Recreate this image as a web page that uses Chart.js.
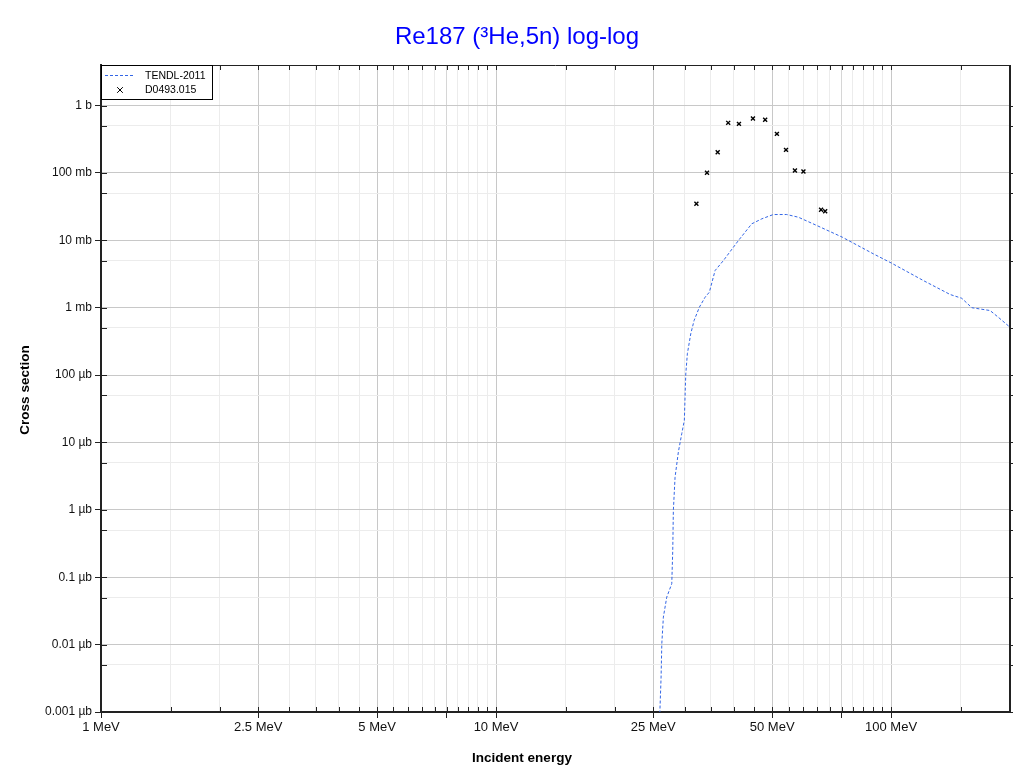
<!DOCTYPE html>
<html>
<head>
<meta charset="utf-8">
<script src="https://cdn.jsdelivr.net/npm/chart.js@4.4.1/dist/chart.umd.min.js"></script>
<style>
  html, body { margin: 0; padding: 0; background: #fff; }
  #wrap { position: relative; width: 1022px; height: 774px; }
  #borda { position: absolute; left: 6px; top: 0; width: 1px; height: 774px; background: #ececec; }
  canvas { position: absolute; left: 0; top: 0; }
</style>
</head>
<body>
<div id="wrap">
  <div id="borda"></div>
  <canvas id="grafico" width="1022" height="774"></canvas>
</div>
<script>
/*dados TENDL-2011 (MeV, barn)*/
const tendlEnergia = [25.95, 26.17, 26.28, 26.52, 27.05, 27.85, 28.01, 28.11, 28.39, 28.94,
  29.52, 29.97, 30.09, 30.22, 30.5, 31.11, 31.72, 32.72, 33.82, 34.67,
  35.85, 37.62, 41.07, 44.39, 47.07, 50.35, 54.43, 58.26, 64.86, 75.28,
  90.2, 100.4, 120.7, 141.1, 151.0, 160.1, 178.1, 186.9, 200];
const tendlSecao = [8e-10, 3.3e-9, 1.03e-8, 2.56e-8, 5.07e-8, 8.0e-8, 2.5e-7, 9.8e-7, 3.05e-6, 7.2e-6,
  1.35e-5, 2.12e-5, 4.7e-5, 1.04e-4, 2.07e-4, 4.1e-4, 6.46e-4, 1.02e-3, 1.43e-3, 1.70e-3,
  3.56e-3, 5.0e-3, 9.93e-3, 0.01758, 0.02085, 0.02415, 0.02415, 0.02203, 0.0166, 0.01112,
  6.3e-3, 4.57e-3, 2.53e-3, 1.57e-3, 1.38e-3, 1.0e-3, 9.08e-4, 7.2e-4, 5.13e-4];

/*dados experimentais D0493.015*/
const expEnergia = [32.15, 34.2, 36.4, 38.7, 41.2, 44.7, 48.0, 51.4, 54.2, 57.1, 60.0, 66.5, 68.1];
const expSecao = [0.0348, 0.101, 0.203, 0.554, 0.535, 0.641, 0.614, 0.380, 0.220, 0.1086, 0.105, 0.0284, 0.0270];

/*ticks*/
const ticksX = [1, 1.5, 2, 2.5, 3, 3.5, 4, 4.5, 5, 5.5, 6, 6.5, 7, 7.5, 8, 8.5, 9, 9.5, 10,
  15, 20, 25, 30, 35, 40, 45, 50, 55, 60, 65, 70, 75, 80, 85, 90, 95, 100, 150, 200];
const ticksXRotulados = [1, 2.5, 5, 10, 25, 50, 100];
const rotulosX = ['1 MeV', '2.5 MeV', '5 MeV', '10 MeV', '25 MeV', '50 MeV', '100 MeV'];
const ticksXMedios = [7.5, 75];

const ticksYDecadas = [1e-9, 1e-8, 1e-7, 1e-6, 1e-5, 1e-4, 1e-3, 1e-2, 1e-1, 1];
const rotulosY = ['0.001 µb', '0.01 µb', '0.1 µb', '1 µb', '10 µb', '100 µb', '1 mb', '10 mb', '100 mb', '1 b'];
const ticksYMeios = [5e-9, 5e-8, 5e-7, 5e-6, 5e-5, 5e-4, 5e-3, 5e-2, 0.5];

const fonte = "'Liberation Sans', Arial, Helvetica, sans-serif";
const corTendl = '#3366e6';

function achar(lista, v) {
  return lista.findIndex(t => Math.abs(Math.log10(t) - Math.log10(v)) < 1e-6);
}
function tickExterno(lista, v) {
  return lista.some(l => achar(l, v) >= 0);
}

const molduraETextos = {
  id: 'molduraETextos',
  beforeDraw(chart) {
    const ctx = chart.ctx;
    ctx.save();
    ctx.fillStyle = '#fff';
    ctx.fillRect(0, 0, chart.width, chart.height);
    ctx.restore();
  },
  afterDraw(chart) {
    const ctx = chart.ctx;
    const a = chart.chartArea;
    const sx = chart.scales.x, sy = chart.scales.y;
    ctx.save();
    // borda de cima e da direita
    ctx.strokeStyle = '#222';
    ctx.lineWidth = 1;
    ctx.beginPath();
    ctx.moveTo(a.left, a.top + 0.5);
    ctx.lineTo(a.right, a.top + 0.5);
    ctx.stroke();
    ctx.lineWidth = 2;
    ctx.beginPath();
    ctx.moveTo(a.right, a.top);
    ctx.lineTo(a.right, a.bottom);
    ctx.stroke();

    // ticks internos
    ctx.lineWidth = 1;
    ctx.beginPath();
    sx.ticks.forEach(t => {
      const px = Math.round(sx.getPixelForValue(t.value)) + 0.5;
      ctx.moveTo(px, a.bottom); ctx.lineTo(px, a.bottom - 5);
      ctx.moveTo(px, a.top); ctx.lineTo(px, a.top + 5);
    });
    sy.ticks.forEach(t => {
      const py = Math.round(sy.getPixelForValue(t.value)) + 0.5;
      ctx.moveTo(a.left, py); ctx.lineTo(a.left + 6, py);
      ctx.moveTo(a.right, py); ctx.lineTo(a.right + 3, py);
    });
    ctx.stroke();

    // titulo
    ctx.fillStyle = '#0000ff';
    ctx.font = '24px ' + fonte;
    ctx.textAlign = 'center';
    ctx.textBaseline = 'middle';
    ctx.fillText('Re187 (³He,5n) log-log', 517, 37);

    // titulos dos eixos
    ctx.fillStyle = '#000';
    ctx.font = 'bold 13.5px ' + fonte;
    ctx.fillText('Incident energy', 522, 758);
    ctx.save();
    ctx.translate(25, 390);
    ctx.rotate(-Math.PI / 2);
    ctx.fillText('Cross section', 0, 0);
    ctx.restore();

    // legenda
    const x0 = a.left, y0 = a.top, w = 111, h = 34;
    ctx.fillStyle = '#fff';
    ctx.fillRect(x0, y0, w, h);
    ctx.strokeStyle = '#000';
    ctx.lineWidth = 1;
    ctx.strokeRect(x0 + 0.5, y0 + 0.5, w, h);

    const ds = chart.data.datasets;
    ctx.strokeStyle = corTendl;
    ctx.lineWidth = 1;
    ctx.setLineDash([3, 2]);
    ctx.beginPath();
    ctx.moveTo(x0 + 4, y0 + 10.5);
    ctx.lineTo(x0 + 33, y0 + 10.5);
    ctx.stroke();
    ctx.setLineDash([]);

    ctx.strokeStyle = '#000';
    Chart.helpers.drawPoint(ctx, { pointStyle: 'crossRot', radius: 4, borderWidth: 1, rotation: 0 }, x0 + 19, y0 + 25);

    ctx.fillStyle = '#000';
    ctx.font = '10.5px ' + fonte;
    ctx.textAlign = 'left';
    ctx.fillText(ds[0].label, x0 + 44, y0 + 11);
    ctx.fillText(ds[1].label, x0 + 44, y0 + 25);
    ctx.restore();
  }
};

const ctxGrafico = document.getElementById('grafico').getContext('2d');

const grafico = new Chart(ctxGrafico, {
  type: 'scatter',
  data: {
    datasets: [
      {
        label: 'TENDL-2011',
        data: tendlEnergia.map((e, i) => ({ x: e, y: tendlSecao[i] })),
        showLine: true,
        borderColor: corTendl,
        borderWidth: 1,
        borderDash: [3, 2],
        pointRadius: 0,
        tension: 0
      },
      {
        label: 'D0493.015',
        data: expEnergia.map((e, i) => ({ x: e, y: expSecao[i] })),
        showLine: false,
        pointStyle: 'crossRot',
        pointRadius: 2.8,
        borderColor: '#000',
        backgroundColor: '#000',
        borderWidth: 1.4
      }
    ]
  },
  options: {
    responsive: false,
    animation: false,
    devicePixelRatio: 1,
    layout: { padding: { top: 65, right: 12, bottom: 0, left: 0 } },
    plugins: {
      legend: { display: false },
      title: { display: false },
      tooltip: { enabled: false }
    },
    scales: {
      x: {
        type: 'logarithmic',
        min: 1,
        max: 200,
        afterBuildTicks: (scale) => { scale.ticks = ticksX.map(v => ({ value: v })); },
        afterFit: (scale) => { scale.height = 62; },
        border: { color: '#222', width: 2 },
        grid: {
          color: (c) => {
            const v = c.tick ? c.tick.value : 1;
            if (achar(ticksXRotulados, v) >= 0) return '#c8c8c8';
            if (achar(ticksXMedios, v) >= 0) return '#d6d6d6';
            return '#ececec';
          },
          tickColor: (c) => {
            const v = c.tick ? c.tick.value : 1;
            return tickExterno([ticksXRotulados, ticksXMedios], v) ? '#222' : 'rgba(0,0,0,0)';
          },
          tickLength: 6
        },
        ticks: {
          autoSkip: false,
          maxRotation: 0,
          minRotation: 0,
          color: '#111',
          font: { family: fonte, size: 13 },
          padding: 2,
          callback: (v) => {
            const i = achar(ticksXRotulados, v);
            return i >= 0 ? rotulosX[i] : '';
          }
        }
      },
      y: {
        type: 'logarithmic',
        min: 1e-9,
        max: 4,
        afterBuildTicks: (scale) => {
          scale.ticks = ticksYDecadas.concat(ticksYMeios).sort((p, q) => p - q).map(v => ({ value: v }));
        },
        afterFit: (scale) => { scale.width = 101; },
        border: { color: '#222', width: 2 },
        grid: {
          color: (c) => {
            const v = c.tick ? c.tick.value : 1;
            return achar(ticksYDecadas, v) >= 0 ? '#c8c8c8' : '#ececec';
          },
          tickColor: (c) => {
            const v = c.tick ? c.tick.value : 1;
            return achar(ticksYDecadas, v) >= 0 ? '#222' : 'rgba(0,0,0,0)';
          },
          tickLength: 6
        },
        ticks: {
          autoSkip: false,
          color: '#111',
          font: { family: fonte, size: 12 },
          padding: 3,
          callback: (v) => {
            const i = achar(ticksYDecadas, v);
            return i >= 0 ? rotulosY[i] : '';
          }
        }
      }
    }
  },
  plugins: [molduraETextos]
});
</script>
</body>
</html>
